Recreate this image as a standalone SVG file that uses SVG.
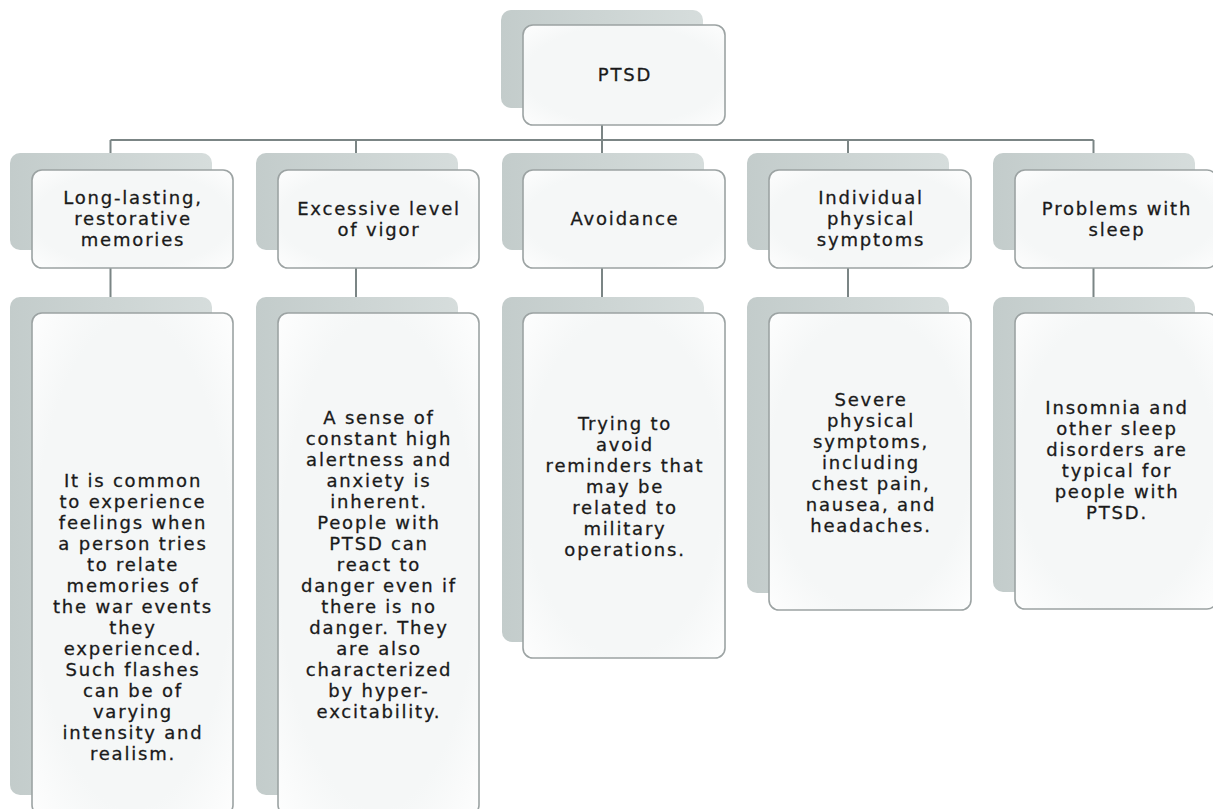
<svg xmlns="http://www.w3.org/2000/svg" width="1213" height="809" viewBox="0 0 1213 809">
<defs>
<linearGradient id="sh" x1="0" y1="0" x2="1" y2="0">
<stop offset="0" stop-color="#c3cccb"/>
<stop offset="1" stop-color="#d6dddc"/>
</linearGradient>
<radialGradient id="fr" cx="0.5" cy="0.5" r="0.75">
<stop offset="0.65" stop-color="#f5f7f7"/>
<stop offset="1" stop-color="#ffffff"/>
</radialGradient>
</defs>
<style>
.sh{fill:url(#sh);}
.fr{fill:url(#fr);stroke:#9ca3a3;stroke-width:1.6;}
.cn{stroke:#7b8585;stroke-width:2;fill:none;}
.t{font-family:"DejaVu Sans",Verdana,sans-serif;font-size:18px;letter-spacing:1.8px;fill:#1a1a1a;stroke:#1a1a1a;stroke-width:0.3px;text-anchor:middle;}
</style>
<rect width="1213" height="809" fill="#ffffff"/>
<g id="connectors">
<path class="cn" d="M602,108V140M110.5,140H1093.5"/>
<path class="cn" d="M110.5,140V153M356,140V153M602,140V153M848,140V153M1093.5,140V153"/>
<path class="cn" d="M110.5,250V297M356,250V297M602,250V297M848,250V297M1093.5,250V297"/>
</g>
<g id="ptsd">
<rect class="sh" x="501" y="10" width="202" height="98" rx="10"/>
<rect class="fr" x="523" y="25" width="202" height="100" rx="10"/>
<text class="t" x="625" y="81">PTSD</text>
</g>
<g id="n1">
<rect class="sh" x="10" y="153" width="202" height="97" rx="10"/>
<rect class="fr" x="32" y="170" width="201" height="98" rx="10"/>
<text class="t" x="133" y="204">Long-lasting,<tspan x="133" dy="21">restorative</tspan><tspan x="133" dy="21">memories</tspan></text>
</g>
<g id="n2">
<rect class="sh" x="256" y="153" width="202" height="97" rx="10"/>
<rect class="fr" x="278" y="170" width="201" height="98" rx="10"/>
<text class="t" x="379" y="214.5">Excessive level<tspan x="379" dy="21">of vigor</tspan></text>
</g>
<g id="n3">
<rect class="sh" x="502" y="153" width="202" height="97" rx="10"/>
<rect class="fr" x="523" y="170" width="202" height="98" rx="10"/>
<text class="t" x="625" y="225">Avoidance</text>
</g>
<g id="n4">
<rect class="sh" x="747" y="153" width="202" height="97" rx="10"/>
<rect class="fr" x="769" y="170" width="202" height="98" rx="10"/>
<text class="t" x="871" y="204">Individual<tspan x="871" dy="21">physical</tspan><tspan x="871" dy="21">symptoms</tspan></text>
</g>
<g id="n5">
<rect class="sh" x="993" y="153" width="202" height="97" rx="10"/>
<rect class="fr" x="1015" y="170" width="202" height="98" rx="10"/>
<text class="t" x="1117" y="214.5">Problems with<tspan x="1117" dy="21">sleep</tspan></text>
</g>
<g id="d1">
<rect class="sh" x="10" y="297" width="202" height="498" rx="10"/>
<rect class="fr" x="32" y="313" width="201" height="502" rx="10"/>
<text class="t" x="133" y="487">It is common<tspan x="133" dy="21">to experience</tspan><tspan x="133" dy="21">feelings when</tspan><tspan x="133" dy="21">a person tries</tspan><tspan x="133" dy="21">to relate</tspan><tspan x="133" dy="21">memories of</tspan><tspan x="133" dy="21">the war events</tspan><tspan x="133" dy="21">they</tspan><tspan x="133" dy="21">experienced.</tspan><tspan x="133" dy="21">Such flashes</tspan><tspan x="133" dy="21">can be of</tspan><tspan x="133" dy="21">varying</tspan><tspan x="133" dy="21">intensity and</tspan><tspan x="133" dy="21">realism.</tspan></text>
</g>
<g id="d2">
<rect class="sh" x="256" y="297" width="202" height="498" rx="10"/>
<rect class="fr" x="278" y="313" width="201" height="502" rx="10"/>
<text class="t" x="379" y="424">A sense of<tspan x="379" dy="21">constant high</tspan><tspan x="379" dy="21">alertness and</tspan><tspan x="379" dy="21">anxiety is</tspan><tspan x="379" dy="21">inherent.</tspan><tspan x="379" dy="21">People with</tspan><tspan x="379" dy="21">PTSD can</tspan><tspan x="379" dy="21">react to</tspan><tspan x="379" dy="21">danger even if</tspan><tspan x="379" dy="21">there is no</tspan><tspan x="379" dy="21">danger. They</tspan><tspan x="379" dy="21">are also</tspan><tspan x="379" dy="21">characterized</tspan><tspan x="379" dy="21">by hyper-</tspan><tspan x="379" dy="21">excitability.</tspan></text>
</g>
<g id="d3">
<rect class="sh" x="502" y="297" width="202" height="345" rx="10"/>
<rect class="fr" x="523" y="313" width="202" height="345" rx="10"/>
<text class="t" x="625" y="430">Trying to<tspan x="625" dy="21">avoid</tspan><tspan x="625" dy="21">reminders that</tspan><tspan x="625" dy="21">may be</tspan><tspan x="625" dy="21">related to</tspan><tspan x="625" dy="21">military</tspan><tspan x="625" dy="21">operations.</tspan></text>
</g>
<g id="d4">
<rect class="sh" x="747" y="297" width="202" height="296" rx="10"/>
<rect class="fr" x="769" y="313" width="202" height="297" rx="10"/>
<text class="t" x="871" y="406">Severe<tspan x="871" dy="21">physical</tspan><tspan x="871" dy="21">symptoms,</tspan><tspan x="871" dy="21">including</tspan><tspan x="871" dy="21">chest pain,</tspan><tspan x="871" dy="21">nausea, and</tspan><tspan x="871" dy="21">headaches.</tspan></text>
</g>
<g id="d5">
<rect class="sh" x="993" y="297" width="202" height="295" rx="10"/>
<rect class="fr" x="1015" y="313" width="202" height="296" rx="10"/>
<text class="t" x="1117" y="414">Insomnia and<tspan x="1117" dy="21">other sleep</tspan><tspan x="1117" dy="21">disorders are</tspan><tspan x="1117" dy="21">typical for</tspan><tspan x="1117" dy="21">people with</tspan><tspan x="1117" dy="21">PTSD.</tspan></text>
</g>
</svg>
